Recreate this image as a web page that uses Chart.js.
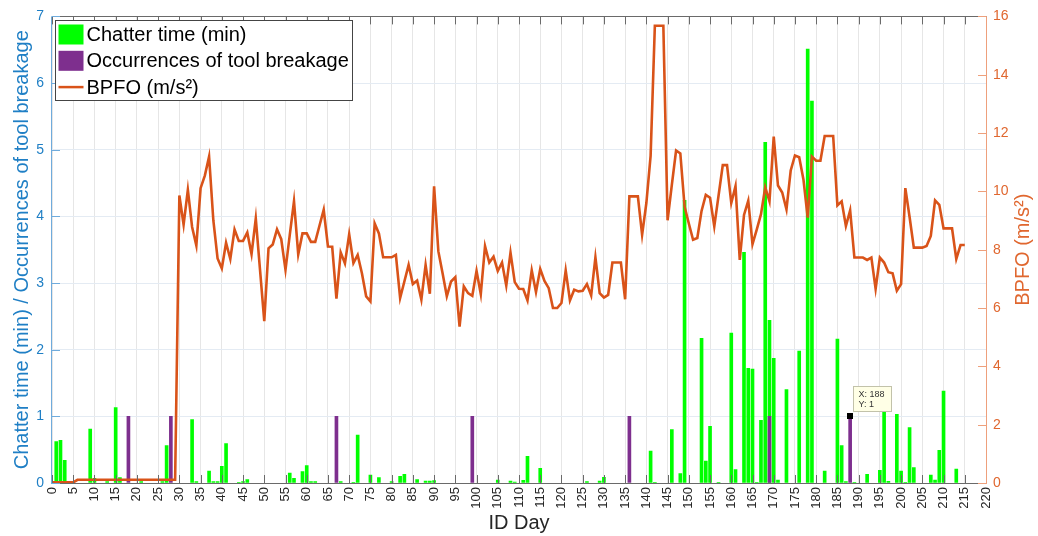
<!DOCTYPE html>
<html>
<head>
<meta charset="utf-8">
<title>Chatter time, tool breakage and BPFO by day</title>
<script src="https://cdn.jsdelivr.net/npm/chart.js@4.4.1/dist/chart.umd.min.js"></script>
<style>
  html, body { margin: 0; padding: 0; background: #ffffff; }
  #wrap { width: 1038px; height: 536px; }
</style>
</head>
<body>
<div id="wrap"><canvas id="chart" width="1038" height="536"></canvas></div>
<script>
// ---- data -------------------------------------------------------------
// BPFO amplitude (m/s²), one value per ID day starting at day 0
const bpfo = [
  0.02, 0.02, 0.02, 0.02, 0.02, 0.02, 0.11, 0.11, 0.11, 0.11,
  0.11, 0.11, 0.11, 0.11, 0.11, 0.11, 0.11, 0.11, 0.11, 0.11,
  0.11, 0.11, 0.11, 0.11, 0.11, 0.11, 0.11, 0.11, 0.11, 0.11,
  9.86, 8.86, 10.05, 8.78, 8.14, 10.11, 10.54, 11.19, 9.01, 7.70,
  7.36, 8.24, 7.68, 8.69, 8.30, 8.30, 8.59, 7.85, 9.07, 7.31,
  5.55, 8.05, 8.18, 8.70, 8.36, 7.31, 8.50, 9.66, 7.84, 8.56,
  8.56, 8.27, 8.27, 8.82, 9.37, 8.11, 8.10, 6.32, 7.91, 7.53,
  8.53, 7.54, 7.82, 7.19, 6.40, 6.23, 8.90, 8.56, 7.74, 7.74,
  7.74, 7.82, 6.34, 6.91, 7.48, 6.82, 6.94, 6.29, 7.48, 6.49,
  10.17, 7.95, 7.19, 6.40, 6.91, 7.06, 5.36, 6.74, 6.51, 6.42,
  7.27, 6.48, 8.12, 7.56, 7.76, 7.27, 7.56, 6.77, 7.90, 6.89,
  6.66, 6.65, 6.26, 7.29, 6.55, 7.34, 6.93, 6.68, 6.00, 6.00,
  6.17, 7.29, 6.26, 6.63, 6.57, 6.59, 6.82, 6.43, 7.74, 6.51,
  6.36, 6.45, 7.56, 7.56, 7.56, 6.30, 9.83, 9.83, 9.83, 8.51,
  9.60, 11.22, 15.68, 15.68, 15.68, 9.01, 10.22, 11.40, 11.30, 9.48,
  8.90, 8.34, 8.40, 9.33, 9.88, 9.78, 8.80, 9.85, 10.90, 10.90,
  9.60, 10.18, 7.65, 9.19, 9.68, 8.19, 8.69, 9.22, 10.14, 9.66,
  11.88, 10.20, 9.96, 9.38, 10.72, 11.23, 11.17, 10.41, 9.10, 11.19,
  11.05, 11.05, 11.90, 11.90, 11.90, 9.52, 9.66, 8.81, 9.35, 7.73,
  7.73, 7.73, 7.65, 7.73, 6.66, 7.73, 7.56, 7.23, 7.19, 6.59,
  6.82, 10.11, 9.12, 8.07, 8.07, 8.07, 8.13, 8.47, 9.69, 9.54,
  8.73, 8.73, 8.73, 7.68, 8.16, 8.16
];
const bpfoDays = bpfo.map((_, day) => day);

// Chatter time (min) on the days where chatter was recorded
const chatterDays = [
  1, 2, 3, 9, 10, 13, 15, 16, 21, 26, 27, 33, 34, 37, 38, 39, 40, 41, 44, 45,
  46, 56, 57, 59, 60, 61, 62, 68, 71, 72, 75, 77, 80, 82, 83, 86, 88, 89, 90, 105,
  108, 109, 111, 112, 115, 126, 129, 130, 141, 142, 146, 148, 149, 153, 154, 155, 157, 160, 161, 163,
  164, 165, 166, 167, 168, 169, 170, 171, 173, 176, 178, 179, 182, 185, 186, 187, 189, 192, 195, 196,
  197, 199, 200, 201, 202, 203, 207, 208, 209, 210, 213
];
const chatterMin = [
  0.62, 0.64, 0.34, 0.81, 0.07, 0.02, 1.13, 0.08, 0.02, 0.02, 0.56, 0.95, 0.02, 0.18, 0.02, 0.02, 0.25, 0.59, 0.01, 0.02,
  0.05, 0.15, 0.07, 0.17, 0.26, 0.02, 0.02, 0.02, 0.01, 0.72, 0.12, 0.08, 0.02, 0.10, 0.13, 0.05, 0.03, 0.03, 0.035, 0.045,
  0.03, 0.015, 0.04, 0.40, 0.22, 0.02, 0.03, 0.085, 0.48, 0.01, 0.80, 0.14, 4.24, 2.17, 0.33, 0.85, 0.01, 2.25, 0.20, 3.46,
  1.72, 1.71, 0.01, 0.94, 5.11, 2.44, 1.87, 0.045, 1.40, 1.98, 6.51, 5.73, 0.18, 2.16, 0.56, 0.02, 0.01, 0.13, 0.19, 1.21,
  0.025, 1.03, 0.18, 0.01, 0.83, 0.23, 0.12, 0.045, 0.49, 1.38, 0.21
];

// Tool breakage events
const breakageDays  = [18, 28, 67, 99, 136, 169, 188];
const breakageCount = [1, 1, 1, 1, 1, 1, 1];

// Axis tick values
const dayTicks   = [0, 5, 10, 15, 20, 25, 30, 35, 40, 45, 50, 55, 60, 65, 70, 75, 80, 85, 90, 95, 100,
                    105, 110, 115, 120, 125, 130, 135, 140, 145, 150, 155, 160, 165, 170, 175, 180,
                    185, 190, 195, 200, 205, 210, 215, 220];
const leftTicks  = [0, 1, 2, 3, 4, 5, 6, 7];
const rightTicks = [0, 2, 4, 6, 8, 10, 12, 14, 16];

// Data tip pinned on one breakage bar
const tipDay = 188;
const tipValue = 1;

// ---- styling ----------------------------------------------------------
const FONT = '"Liberation Sans", Arial, Helvetica, sans-serif';
const BLUE_TXT = '#1f7fc5';
const BLUE_LINE = '#6fabdc';
const ORANGE = '#D95319';
const ORANGE_TXT = '#e0672f';
const ORANGE_LINE = '#eea07c';
const FRAME = '#6a6a6a';
const GREEN = '#00FF00';
const PURPLE = '#7E2F8E';

const pts = (xs, ys) => xs.map((x, i) => ({ x: x, y: ys[i] }));
const fixedTicks = list => scale => { scale.ticks = list.map(v => ({ value: v })); };

// Box, inward tick marks, legend, data tip and right-hand title
const axesDecor = {
  id: 'axesDecor',
  afterDatasetsDraw(chart) {
    const { ctx, chartArea: { left, right, top, bottom }, scales: { x, y, y2 } } = chart;
    const seg = (x1, y1, x2, y2p) => { ctx.beginPath(); ctx.moveTo(x1, y1); ctx.lineTo(x2, y2p); ctx.stroke(); };
    ctx.save();
    ctx.lineWidth = 1;

    // top and bottom edges with inward ticks
    ctx.strokeStyle = FRAME;
    seg(left, Math.round(top) + 0.5, right, Math.round(top) + 0.5);
    seg(left, Math.round(bottom) + 0.5, right, Math.round(bottom) + 0.5);
    dayTicks.forEach(v => {
      const px = Math.round(x.getPixelForValue(v)) + 0.5;
      seg(px, bottom, px, bottom - 8);
      seg(px, top, px, top + 8);
    });

    // left axis
    ctx.strokeStyle = BLUE_LINE;
    seg(Math.round(left) - 0.5, top, Math.round(left) - 0.5, bottom + 1);
    leftTicks.forEach(v => {
      const py = Math.round(y.getPixelForValue(v)) + 0.5;
      seg(left, py, left + 8, py);
    });

    // right axis
    ctx.strokeStyle = ORANGE_LINE;
    seg(Math.round(right) + 0.5, top, Math.round(right) + 0.5, bottom + 1);
    rightTicks.forEach(v => {
      const py = Math.round(y2.getPixelForValue(v)) + 0.5;
      seg(right, py, right - 8, py);
    });

    // right axis title, reading upward
    ctx.save();
    ctx.translate(1023, (top + bottom) / 2);
    ctx.rotate(-Math.PI / 2);
    ctx.fillStyle = ORANGE_TXT;
    ctx.font = '20px ' + FONT;
    ctx.textAlign = 'center';
    ctx.textBaseline = 'middle';
    ctx.fillText('BPFO (m/s²)', 0, 0);
    ctx.restore();

    // data tip
    const tx = x.getPixelForValue(tipDay);
    const ty = y.getPixelForValue(tipValue);
    ctx.fillStyle = '#000000';
    ctx.fillRect(Math.round(tx) - 3, Math.round(ty) - 3, 6, 6);
    const bx = Math.round(tx) + 3.5, by = Math.round(ty) - 29.5;
    ctx.fillStyle = '#ffffe6';
    ctx.strokeStyle = '#c2c2aa';
    ctx.fillRect(bx, by, 38, 25);
    ctx.strokeRect(bx, by, 38, 25);
    ctx.fillStyle = '#333333';
    ctx.font = '9px ' + FONT;
    ctx.textAlign = 'left';
    ctx.textBaseline = 'middle';
    ctx.fillText('X: ' + tipDay, bx + 5, by + 8);
    ctx.fillText('Y: ' + tipValue, bx + 5, by + 18);

    // legend box
    const lx = 55.5, ly = 20.5, lw = 297, lh = 80;
    ctx.fillStyle = '#ffffff';
    ctx.fillRect(lx, ly, lw, lh);
    ctx.strokeStyle = '#444444';
    ctx.strokeRect(lx, ly, lw, lh);
    const rows = [chart.data.datasets[2], chart.data.datasets[1], chart.data.datasets[0]];
    ctx.font = '20px ' + FONT;
    ctx.textAlign = 'left';
    ctx.textBaseline = 'middle';
    rows.forEach((ds, i) => {
      const cy = ly + 14 + i * 26.3;
      if (ds.type === 'line') {
        ctx.strokeStyle = ds.borderColor;
        ctx.lineWidth = 2.5;
        seg(lx + 3, cy, lx + 28, cy);
        ctx.lineWidth = 1;
      } else {
        ctx.fillStyle = ds.backgroundColor;
        ctx.fillRect(lx + 3, cy - 10, 25, 20);
      }
      ctx.fillStyle = '#000000';
      ctx.fillText(ds.label, lx + 31, cy + 1);
    });
    ctx.restore();
  }
};

new Chart(document.getElementById('chart'), {
  type: 'bar',
  data: {
    datasets: [
      {
        type: 'line',
        label: 'BPFO (m/s²)',
        data: pts(bpfoDays, bpfo),
        yAxisID: 'y2',
        borderColor: ORANGE,
        borderWidth: 2.6,
        pointRadius: 0,
        tension: 0,
        fill: false,
        order: 0
      },
      {
        label: 'Occurrences of tool breakage',
        data: pts(breakageDays, breakageCount),
        yAxisID: 'y',
        backgroundColor: PURPLE,
        barThickness: 3,
        grouped: false,
        order: 1
      },
      {
        label: 'Chatter time (min)',
        data: pts(chatterDays, chatterMin),
        yAxisID: 'y',
        backgroundColor: GREEN,
        barThickness: 3,
        grouped: false,
        order: 2
      }
    ]
  },
  options: {
    responsive: false,
    animation: false,
    devicePixelRatio: 1,
    layout: { padding: { top: 13, left: 0, right: 0, bottom: 0 } },
    plugins: { legend: { display: false }, tooltip: { enabled: false } },
    scales: {
      x: {
        type: 'linear',
        position: 'bottom',
        min: 0,
        max: 220,
        offset: false,
        afterBuildTicks: fixedTicks(dayTicks),
        afterFit: s => { s.height = 53; },
        grid: { color: '#e6e6e6', drawTicks: false, offset: false },
        border: { display: false },
        ticks: {
          autoSkip: false,
          minRotation: 90,
          maxRotation: 90,
          padding: 4,
          color: '#262626',
          font: { family: FONT, size: 13 }
        },
        title: {
          display: true,
          text: 'ID Day',
          color: '#262626',
          font: { family: FONT, size: 20 },
          padding: { top: 0, bottom: 1 }
        }
      },
      y: {
        position: 'left',
        min: 0,
        max: 7,
        afterBuildTicks: fixedTicks(leftTicks),
        afterFit: s => { s.width = 52; },
        grid: { color: '#e4ebf3', drawTicks: false },
        border: { display: false },
        ticks: { padding: 8, color: BLUE_TXT, font: { family: FONT, size: 14 } },
        title: {
          display: true,
          text: 'Chatter time (min) / Occurrences of tool breakage',
          color: BLUE_TXT,
          font: { family: FONT, size: 20 },
          padding: { top: 10, bottom: 0 }
        }
      },
      y2: {
        position: 'right',
        min: 0,
        max: 16,
        afterBuildTicks: fixedTicks(rightTicks),
        afterFit: s => { s.width = 52; },
        grid: { display: false, drawTicks: false },
        border: { display: false },
        ticks: { padding: 7, color: ORANGE_TXT, font: { family: FONT, size: 14 } }
      }
    }
  },
  plugins: [axesDecor]
});
</script>
</body>
</html>
